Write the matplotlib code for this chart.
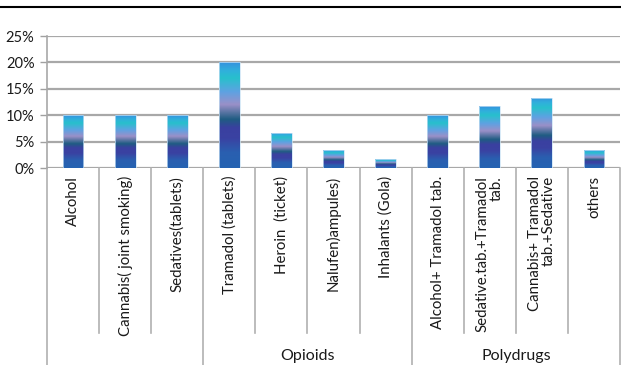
import numpy as np
import matplotlib
matplotlib.use("Agg")
import matplotlib.pyplot as plt
from matplotlib.colors import LinearSegmentedColormap
from matplotlib.lines import Line2D

plt.rcParams['font.family'] = ['Lato', 'DejaVu Sans']

# данные
categories = ['Alcohol', 'Cannabis( joint smoking)', 'Sedatives(tablets)',
              'Tramadol (tablets)', 'Heroin  (ticket)', 'Nalufen)ampules)',
              'Inhalants (Gola)', 'Alcohol+ Tramadol tab.',
              'Sedative.tab.+Tramadol\ntab.', 'Cannabis+ Tramadol\ntab.+Sedative',
              'others']
values = [10.0, 10.0, 10.0, 20.0, 6.67, 3.33, 1.67, 10.0, 11.67, 13.33, 3.33]
groups = ['', 'Opioids', 'Polydrugs']
group_sizes = [3, 4, 4]
yticks = [0, 5, 10, 15, 20, 25]

# градиент столбиков (снизу вверх)
grad = LinearSegmentedColormap.from_list('bars', [
    (0.00, '#2563b2'), (0.15, '#2a5fb0'), (0.28, '#3a42a2'),
    (0.38, '#3a40a0'), (0.46, '#1f5c82'), (0.60, '#9a90c8'),
    (0.72, '#5ea2e2'), (0.85, '#28c0cc'), (0.92, '#30b0dc'),
    (1.00, '#3592de')])

W, H = 621, 365
fig = plt.figure(figsize=(W / 100, H / 100), dpi=100)
ax = fig.add_axes([47 / W, 1 - 168 / H, 573 / W, 132 / H])

x = np.arange(len(categories))
bars = ax.bar(x, values, width=0.4, color='none', edgecolor='#c8e2f4',
              linewidth=0.5, zorder=3)
g = np.linspace(0, 1, 256).reshape(-1, 1)
for b in bars:
    x0, w, h = b.get_x(), b.get_width(), b.get_height()
    im = ax.imshow(g, cmap=grad, origin='lower', aspect='auto',
                   extent=(x0, x0 + w, 0, h), zorder=2,
                   interpolation='bilinear')
    im.set_clip_path(b)

ax.set_xlim(-0.5, len(categories) - 0.5)
ax.set_ylim(0, 25)
ax.set_yticks(yticks)
ax.set_yticklabels([f'{t}%' for t in yticks], fontsize=10.5, color='#1a1a1a')
ax.tick_params(axis='y', length=5, width=1, color='#a0a0a0', pad=4)
ax.set_xticks([])
ax.yaxis.grid(True, color='#a8a8a8', linewidth=1.6, zorder=0)
ax.set_axisbelow(True)
for s in ['top', 'right', 'bottom']:
    ax.spines[s].set_visible(False)
ax.spines['left'].set_color('#a8a8a8')
ax.spines['left'].set_linewidth(1.2)

# подписи категорий и разделители
px = 132.0  # высота осей в пикселях
def ay(pix):
    return -(pix - 168) / px

trans = ax.get_xaxis_transform()
for i, lab in enumerate(categories):
    ax.text(i, ay(176), lab, rotation=90, ha='center', va='top',
            multialignment='right', fontsize=10.8, color='#1a1a1a',
            transform=trans, linespacing=1.0)

bounds = np.cumsum([0] + group_sizes) - 0.5
for k in range(len(categories) + 1):
    xb = k - 0.5
    bottom = ay(365) if xb in bounds else ay(333)
    ax.plot([xb, xb], [0, bottom], color='#b0b0b0', linewidth=1.2,
            transform=trans, clip_on=False)

for gname, a, b in zip(groups, bounds[:-1], bounds[1:]):
    if gname:
        ax.text((a + b) / 2, ay(356), gname, ha='center', va='center',
                fontsize=11.5, color='#1a1a1a', transform=trans)

# верхняя линия
fig.add_artist(Line2D([0, 620 / W], [1 - 7 / H, 1 - 7 / H], color='black',
                      linewidth=1.5))

fig.savefig('out.png', dpi=100)
